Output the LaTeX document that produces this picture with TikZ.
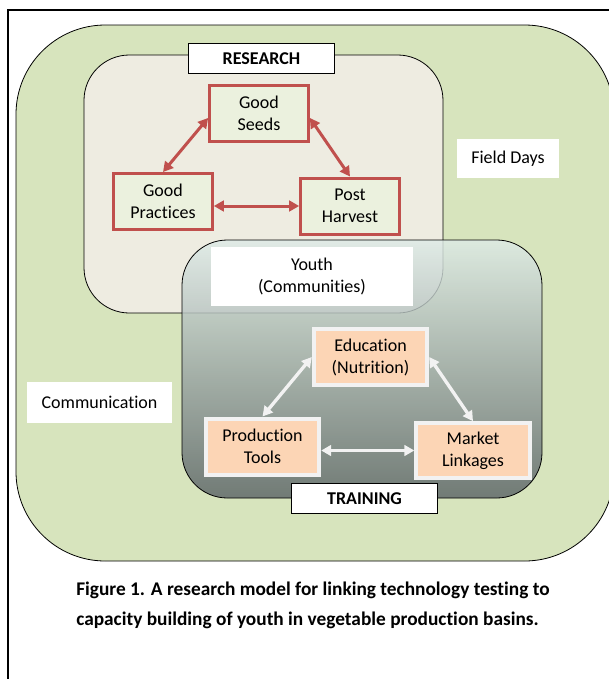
\documentclass[tikz,border=0pt]{standalone}
\usepackage{fontspec}
\setmainfont{Carlito}[Ligatures=NoCommon]
\usetikzlibrary{arrows.meta}
\definecolor{fieldgreen}{HTML}{D7E4BD}
\definecolor{researchfill}{HTML}{EEECE1}
\definecolor{boxred}{HTML}{C0504D}
\definecolor{seedfill}{HTML}{EBF1DE}
\definecolor{peach}{HTML}{FCD5B5}
\definecolor{paleborder}{HTML}{F2F2F2}
\definecolor{traintop}{HTML}{DEEBE7}
\definecolor{trainmid}{HTML}{ADBBB7}
\definecolor{trainbottom}{HTML}{5B6466}

\begin{document}
\begin{tikzpicture}[x=0.75pt,y=-0.75pt,
    every node/.style={font=\fontsize{13.5}{16.5}\selectfont},
    redbox/.style={draw=boxred, line width=2.25pt, fill=seedfill, minimum width=74pt, minimum height=42pt, align=center, inner sep=2pt},
    peachbox/.style={draw=paleborder, line width=3pt, fill=peach, minimum width=85pt, minimum height=42pt, align=center, inner sep=2pt},
    labelbox/.style={fill=white, align=center, inner sep=2pt},
    tagbox/.style={draw=black, fill=white, line width=0.8pt, minimum width=110pt, minimum height=23pt, font=\fontsize{13.5}{16.5}\selectfont\bfseries},
    redarrow/.style={draw=boxred, line width=2.25pt, {Triangle[length=7.5pt,width=8pt]}-{Triangle[length=7.5pt,width=8pt]}},
    whitearrow/.style={draw=paleborder, line width=2.5pt, {Triangle[length=7.5pt,width=8pt]}-{Triangle[length=7.5pt,width=8pt]}}]
            % Page size and clipping
            \useasboundingbox (0,0) rectangle (609,679);
            \clip (0,0) rectangle (609,679);
            \fill[white] (0,0) rectangle (609,679);
            % Outer frame
            \draw[line width=1.5pt] (8,690) -- (8,10) -- (620,10);
            % Green field area
            \draw[fill=fieldgreen, line width=0.6pt, rounded corners=67pt] (16,25) rectangle (614,561);
            % Research area
            \draw[fill=researchfill, line width=0.6pt, rounded corners=34pt] (84,55) rectangle (443,313);
            \node[tagbox] (research) at (261.5,58.5) {RESEARCH};
            % Research boxes
            \node[redbox] (seeds) at (259,113.5) {Good\\Seeds};
            \node[redbox] (practices) at (163,201.5) {Good\\Practices};
            \node[redbox] (harvest) at (350,206) {Post\\Harvest};
            \draw[redarrow] (seeds.185) -- (practices.north);
            \draw[redarrow] (seeds.-5) -- (harvest.north);
            \draw[redarrow] (practices.east |- harvest.west) -- (harvest.west);
            % Side labels
            \node[labelbox, minimum width=76.5pt, minimum height=29pt] (fielddays) at (508,158.5) {Field Days};
            \node[labelbox, minimum width=109pt, minimum height=31pt] (communication) at (99.5,402.5) {Communication};
            % Training area, see-through over research
            \path[draw=black, line width=0.6pt, rounded corners=34pt, fill opacity=0.82,
                top color=traintop, middle color=trainmid, bottom color=trainbottom] (182,240) rectangle (542,498);
            \node[labelbox, minimum width=151.5pt, minimum height=44pt] (youth) at (312,276.5) {Youth\\(Communities)};
            % Training boxes
            \node[peachbox] (education) at (370.5,357) {Education\\(Nutrition)};
            \node[peachbox] (tools) at (262.5,446.5) {Production\\Tools};
            \node[peachbox, minimum height=41pt] (market) at (473,450.5) {Market\\Linkages};
            \draw[whitearrow] (education.west) -- (tools.north);
            \draw[whitearrow] (education.east) -- (market.north);
            \draw[whitearrow] (tools.east |- market.west) -- (market.west);
            \node[tagbox] (training) at (364.5,498.5) {TRAINING};
            % Caption
            \node[anchor=north west, align=left, inner sep=0pt, font=\fontsize{14.5}{22.5}\selectfont\bfseries] (caption) at (76,582)
                {Figure 1. A research model for linking technology testing to\\capacity building of youth in vegetable production basins.};
        \end{tikzpicture}
\end{document}
